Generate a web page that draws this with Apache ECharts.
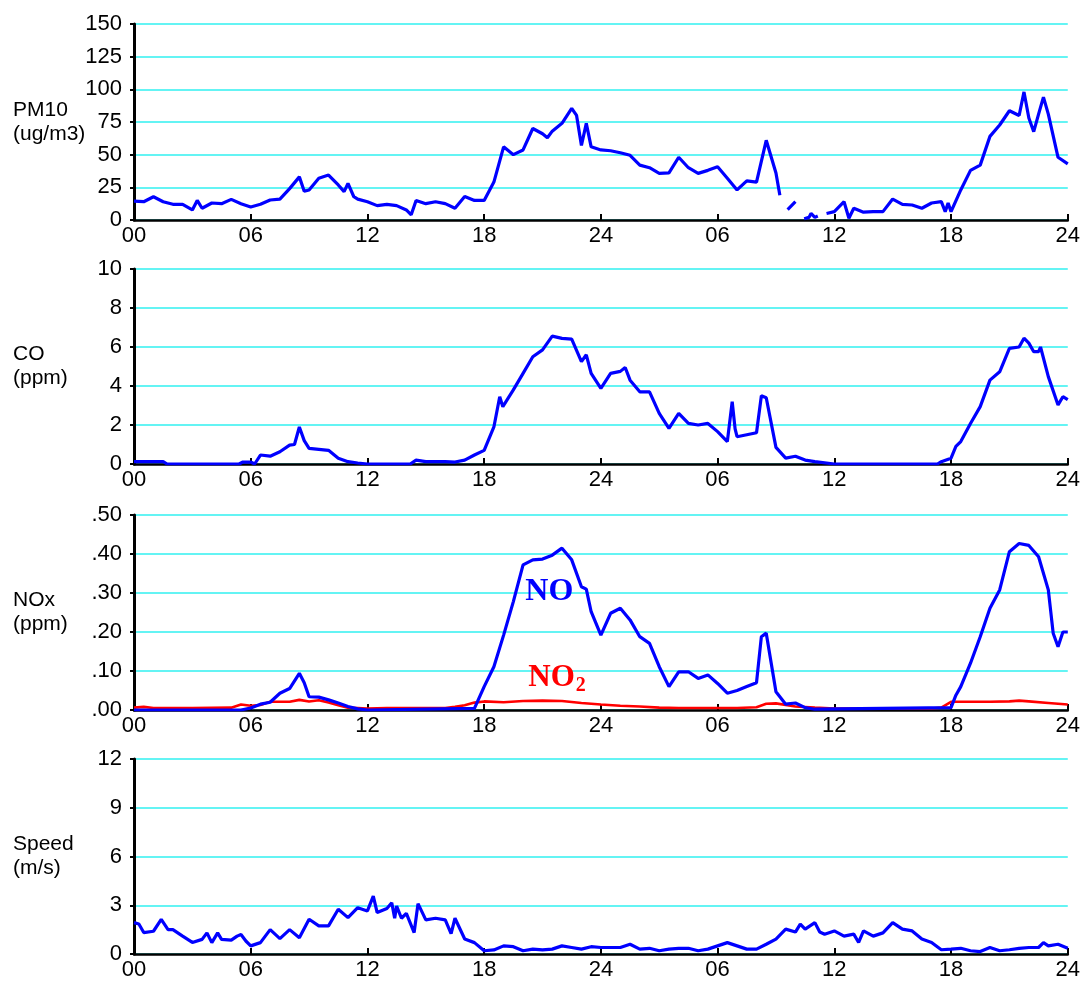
<!DOCTYPE html>
<html><head><meta charset="utf-8">
<script src="https://cdn.jsdelivr.net/npm/echarts@6/dist/echarts.min.js"></script>
<style>html,body{margin:0;padding:0;background:#fff}#c{width:1083px;height:981px}</style>
</head><body><div id="c"></div>
<script>
// ---- tick labels ----
const xTickLabels = ['00','06','12','18','24','06','12','18','24'];
const pm10Ticks = ['0','25','50','75','100','125','150'];
const coTicks = ['0','2','4','6','8','10'];
const noxTicks = ['.00','.10','.20','.30','.40','.50'];
const speedTicks = ['0','3','6','9','12'];

// ---- PM10 (ug/m3) ----
const pm10Hours = [0,0.5,1,1.5,2,2.5,3,3.25,3.5,4,4.5,5,5.5,6,6.5,7,7.5,8,8.5,8.75,9,9.5,10,10.5,10.8,11,11.3,11.5,12,12.5,13,13.5,14,14.25,14.5,15,15.5,16,16.5,17,17.5,18,18.5,19,19.5,20,20.5,21,21.25,21.5,22,22.5,22.75,23,23.25,23.5,24,24.5,25,25.5,26,26.5,27,27.5,28,28.5,29,29.5,30,30.5,31,31.5,32,32.5,33,33.2,33.4,33.6,34,34.2,34.45,34.7,34.8,35,35.15,35.35,35.6,36,36.5,36.75,37,37.5,38,38.5,39,39.5,40,40.5,41,41.5,41.7,41.85,42,42.5,43,43.5,44,44.5,45,45.5,45.75,46,46.25,46.5,46.75,47,47.5,48];
const pm10Values = [14.5,14,17.8,14,12,12,7.7,15,9,13,12.5,15.8,12.5,10,12,15.3,16,24,33,22,23,32,34.4,26.8,21.7,28,17.8,16,14,11,12,11,7.7,4,15,12.5,14,12.5,9,18,15,15,29,56,50,53.6,70,66,63,68,74,85.5,80,57,74,56,53.6,53,51.5,49.5,42,40,35.7,36,48,40,35.7,38,40.8,32,23,30,29,61,36,19,null,8,14,null,1,2,5,2,3,null,5,6.4,14,1.3,9,6,6.4,6.4,16,12,11.5,9,13,14,6.4,13,6.4,23,38,42,64,72.7,83.6,80,98,78,67.6,81,94,81,48,43];

// ---- CO (ppm) ----
const coHours = [0,1.5,1.7,5.4,5.6,6,6.2,6.5,7,7.5,8,8.25,8.5,8.75,9,9.5,10,10.5,11,11.5,12,14.2,14.5,15,16,16.5,17,17.5,18,18.5,18.8,18.96,19.5,20,20.5,21,21.5,22,22.5,23,23.25,23.5,24,24.5,25,25.25,25.5,26,26.5,27,27.5,28,28.5,29,29.5,30,30.5,30.75,30.9,31,31.5,32,32.25,32.5,33,33.5,34,34.5,35,36,41.3,41.5,42,42.25,42.5,43,43.5,44,44.5,45,45.5,45.75,46,46.25,46.5,46.6,47,47.5,47.75,48];
const coValues = [0.12,0.12,0,0,0.1,0.1,0,0.46,0.4,0.63,0.97,1.0,1.9,1.2,0.8,0.75,0.7,0.3,0.12,0.05,0,0,0.2,0.12,0.12,0.1,0.2,0.46,0.7,1.9,3.45,2.94,3.8,4.65,5.5,5.85,6.56,6.44,6.4,5.25,5.6,4.65,3.88,4.65,4.75,4.95,4.3,3.7,3.7,2.6,1.83,2.6,2.08,2.0,2.08,1.66,1.15,3.2,1.8,1.4,1.5,1.6,3.5,3.4,0.85,0.3,0.4,0.2,0.12,0,0,0.12,0.3,0.9,1.15,2.08,2.94,4.3,4.73,5.93,6.0,6.45,6.2,5.76,5.76,6.0,4.48,3.03,3.45,3.3];

// ---- NO (ppm) ----
const noHours = [0,5.5,6,6.5,7,7.5,8,8.5,8.75,9,9.5,10,10.5,11,11.5,12,17.5,18,18.5,19,19.5,20,20.5,21,21.5,22,22.5,23,23.25,23.5,24,24.5,25,25.5,26,26.5,27,27.5,28,28.5,29,29.5,30,30.5,31,31.5,32,32.25,32.5,33,33.5,34,34.5,35,42,42.25,42.5,43,43.5,44,44.5,45,45.5,46,46.5,47,47.25,47.5,47.75,48];
const noValues = [0,0,0.005,0.015,0.02,0.043,0.055,0.094,0.07,0.034,0.033,0.026,0.018,0.009,0.003,0,0.004,0.06,0.111,0.192,0.278,0.372,0.385,0.387,0.397,0.415,0.385,0.316,0.31,0.252,0.192,0.248,0.261,0.231,0.188,0.171,0.111,0.06,0.098,0.098,0.081,0.09,0.068,0.043,0.05,0.06,0.07,0.188,0.197,0.047,0.015,0.018,0.006,0.002,0.006,0.038,0.06,0.12,0.188,0.261,0.308,0.406,0.427,0.422,0.393,0.308,0.197,0.162,0.2,0.2];

// ---- NO2 (ppm) ----
const no2Hours = [0,0.5,1,3,5,5.5,6,6.5,7,8,8.5,9,9.5,10,10.5,11,12,13,16,16.5,17,17.5,18,19,20,21,22,23,24,25,26,27,28,31,32,32.5,33,34,35,36,41,41.5,42,43,44,45,45.5,46,47,48];
const no2Values = [0.006,0.008,0.005,0.005,0.006,0.014,0.011,0.013,0.021,0.021,0.026,0.022,0.025,0.019,0.012,0.006,0.004,0.005,0.005,0.008,0.012,0.019,0.022,0.02,0.023,0.024,0.023,0.018,0.014,0.011,0.009,0.006,0.005,0.005,0.007,0.016,0.017,0.009,0.006,0.004,0.004,0.006,0.021,0.021,0.021,0.022,0.024,0.022,0.018,0.014];

// ---- Wind speed (m/s) ----
const speedHours = [0,0.25,0.5,1,1.4,1.75,2,2.5,3,3.5,3.75,4,4.3,4.5,5,5.3,5.5,5.75,6,6.5,7,7.5,8,8.5,9,9.5,10,10.5,11,11.5,12,12.3,12.5,13,13.25,13.4,13.5,13.75,14,14.4,14.6,15,15.5,16,16.3,16.5,17,17.5,18,18.5,19,19.5,20,20.5,21,21.5,22,22.5,23,23.5,24,25,25.5,26,26.5,27,27.5,28,28.5,29,29.5,30,30.5,31,31.5,32,32.5,33,33.5,34,34.25,34.5,35,35.25,35.5,36,36.5,37,37.25,37.5,38,38.5,39,39.5,40,40.5,41,41.5,42,42.5,43,43.5,44,44.5,45,45.5,46,46.5,46.75,47,47.5,48];
const speedValues = [1.93,1.85,1.32,1.4,2.13,1.5,1.5,1.1,0.71,0.9,1.3,0.7,1.3,0.9,0.85,1.1,1.2,0.8,0.5,0.7,1.5,0.95,1.5,1.0,2.14,1.73,1.73,2.75,2.24,2.85,2.65,3.56,2.55,2.8,3.15,2.2,2.95,2.2,2.5,1.32,3.1,2.1,2.2,2.1,1.25,2.2,0.92,0.7,0.2,0.25,0.5,0.45,0.2,0.3,0.25,0.3,0.5,0.4,0.3,0.45,0.4,0.4,0.6,0.3,0.35,0.2,0.3,0.35,0.35,0.2,0.3,0.5,0.7,0.5,0.3,0.3,0.6,0.92,1.53,1.35,1.84,1.53,1.93,1.35,1.22,1.42,1.1,1.22,0.71,1.42,1.1,1.3,1.93,1.53,1.42,0.92,0.71,0.26,0.3,0.35,0.2,0.15,0.4,0.2,0.26,0.35,0.4,0.4,0.7,0.5,0.6,0.35];

function pairs(hs, vs){ return hs.map((h,i)=>[h, vs[i]===null ? '-' : vs[i]]); }

const FONT = 'Liberation Sans, Arial, sans-serif';
const SERIF = 'Liberation Serif, Times New Roman, serif';
const gridTops = [24, 269, 515, 759];
const gridHeights = [196, 195, 195, 196];

const grids = gridTops.map((t,i)=>({left:134, right:10, top:t, height:gridHeights[i], containLabel:false}));

const xAxes = gridTops.map((t,i)=>({
  type:'value', gridIndex:i, min:0, max:48, interval:6,
  axisLine:{show:true, onZero:false, lineStyle:{color:'#000', width:2.5}},
  axisTick:{show:true, inside:true, length:6, lineStyle:{color:'#000', width:2}},
  splitLine:{show:false},
  axisLabel:{color:'#000', fontSize:22, fontFamily:FONT, margin:5,
    formatter:v=>xTickLabels[Math.round(v/6)]}
}));

function yAxis(i, max, interval, ticks, name){
  return {
    type:'value', gridIndex:i, min:0, max:max, interval:interval,
    name:name, nameLocation:'middle', nameRotate:0, nameGap:121, nameMoveOverlap:false,
    nameTextStyle:{align:'left', verticalAlign:'middle', color:'#000', fontSize:21, lineHeight:24, fontFamily:FONT},
    axisLine:{show:true, lineStyle:{color:'#000', width:3}},
    axisTick:{show:true, length:4, lineStyle:{color:'#000', width:2}},
    splitLine:{show:true, lineStyle:{color:'#30F0F0', width:1.5}},
    axisLabel:{color:'#000', fontSize:22, fontFamily:FONT, margin:12,
      formatter:v=>ticks[Math.round(v/interval)]}
  };
}

const yAxes = [
  yAxis(0, 150, 25, pm10Ticks, 'PM10\n(ug/m3)'),
  yAxis(1, 10, 2, coTicks, 'CO\n(ppm)'),
  yAxis(2, 0.5, 0.1, noxTicks, 'NOx\n(ppm)'),
  yAxis(3, 12, 3, speedTicks, 'Speed\n(m/s)')
];

function line(name, i, data, color, width, extra){
  return Object.assign({
    name:name, type:'line', xAxisIndex:i, yAxisIndex:i, data:data,
    showSymbol:false, symbol:'none', connectNulls:false, smooth:false,
    lineStyle:{color:color, width:width}, itemStyle:{color:color},
    animation:false, silent:true
  }, extra||{});
}

const option = {
  backgroundColor:'#fff',
  animation:false,
  grid:grids,
  xAxis:xAxes,
  yAxis:yAxes,
  series:[
    line('PM10', 0, pairs(pm10Hours, pm10Values), '#0000FF', 3.2),
    line('CO', 1, pairs(coHours, coValues), '#0000FF', 3.2),
    line('NO2', 2, pairs(no2Hours, no2Values), '#FF0000', 2.6, {
      markPoint:{symbol:'circle', symbolSize:1, itemStyle:{color:'rgba(0,0,0,0)'},
        data:[{coord:[21.75, 0.082], label:{show:true, position:'inside',
          formatter:'{a|NO}{b|2}',
          rich:{a:{fontSize:31, fontWeight:'bold', color:'#FF0000', fontFamily:SERIF},
                b:{fontSize:20, fontWeight:'bold', color:'#FF0000', fontFamily:SERIF, padding:[15,0,0,1]}}}}]}
    }),
    line('NO', 2, pairs(noHours, noValues), '#0000FF', 3.2, {
      markPoint:{symbol:'circle', symbolSize:1, itemStyle:{color:'rgba(0,0,0,0)'},
        data:[{coord:[21.35, 0.302], label:{show:true, position:'inside', formatter:'NO',
          fontSize:32, fontWeight:'bold', color:'#0000FF', fontFamily:SERIF}}]}
    }),
    line('Speed', 3, pairs(speedHours, speedValues), '#0000FF', 3.2)
  ]
};

const chart = echarts.init(document.getElementById('c'), null, {renderer:'canvas'});
chart.setOption(option);
</script>
</body></html>
